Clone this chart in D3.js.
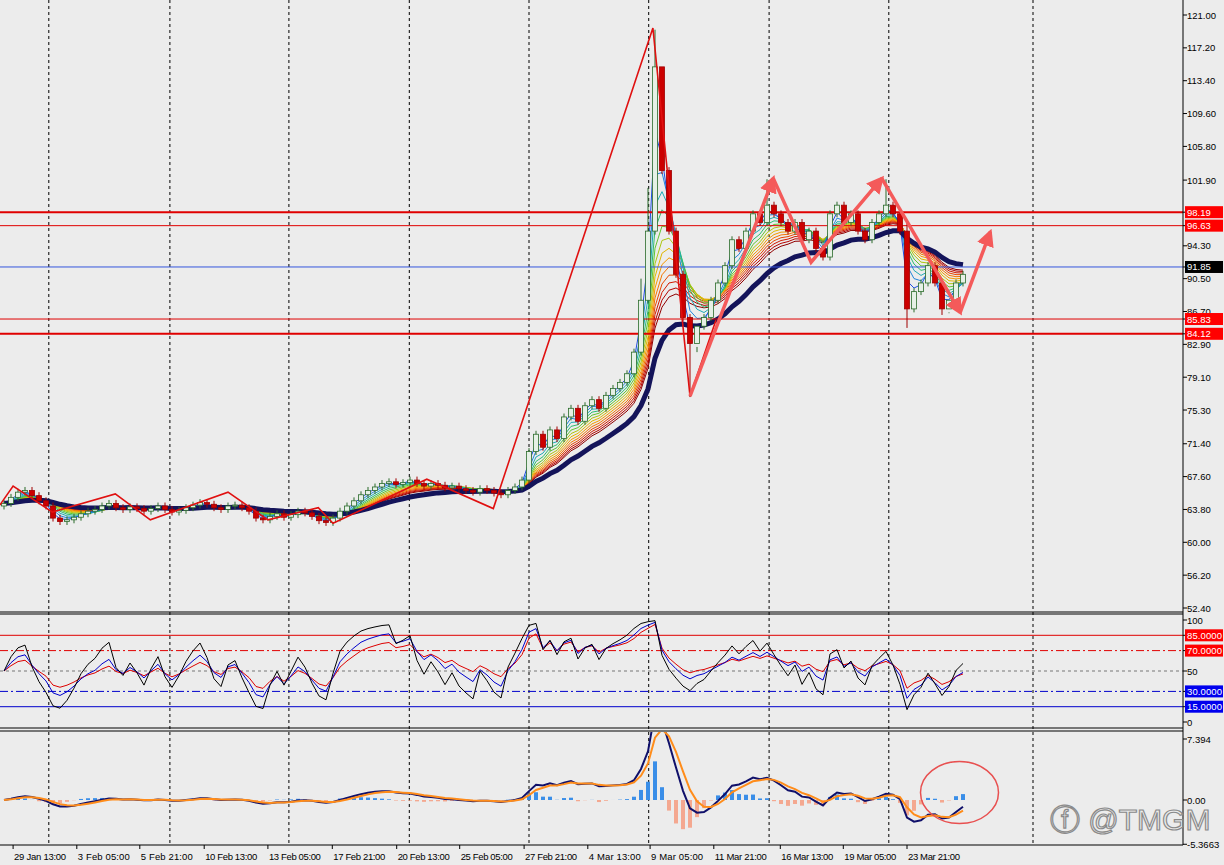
<!DOCTYPE html>
<html><head><meta charset="utf-8">
<script src="https://cdn.jsdelivr.net/npm/d3@7"></script>
<style>body{margin:0;background:#ececec}svg{display:block;font-family:"Liberation Sans",sans-serif}</style>
</head><body><div id="chart"></div>
<script>
// closing prices per bar
const closes = [64.5,65.2,65.8,66.0,65.4,64.8,64.2,
  62.8,62.4,62.6,62.9,63.3,63.6,
  63.8,64.2,64.5,64.0,63.8,64.1,63.9,63.6,63.9,64.2,63.8,63.5,63.7,64.0,64.3,64.6,64.4,64.0,63.8,64.2,64.3,64.0,63.6,
  62.8,62.6,63.0,63.3,62.9,63.2,63.6,63.4,63.0,62.5,62.3,62.8,63.6,
  64.2,64.8,65.5,66.0,66.4,66.8,67.0,66.7,66.9,67.2,66.8,66.5,66.8,66.6,66.3,66.5,66.2,66.0,65.8,66.2,66.0,65.7,
  65.5,66.0,66.4,67.2,
  70.5,72.5,71.0,73.0,72.0,74.5,75.5,
  74.0,75.8,76.5,75.5,77.0,77.8,78.5,79.5,82.0,
  88.0,96.0,115.0,103,96,91,86,83,85,86,88,90,92,95,94,96,98,97,99,98,97,96,97,95,96,94,93,98,99,97,98,96,95,97,98,99,98,96,
  87,89,90,92,90,87,88,90,91];
const highOverride = {91: 90.5, 92: 101, 93: 119.3, 94: 110, 99: 82, 109: 102, 126: 102, 129: 97, 135: 86.5};
const lowOverride = {98: 76.8, 129: 84.8, 134: 86.3};

const priceTicks = [121.00,117.20,113.40,109.60,105.80,101.90,94.30,90.50,86.70,82.90,79.10,75.30,71.40,67.60,63.80,60.00,56.20,52.40];
const levels = [{v:98.19,w:2,c:'#e00000',box:'#ff0000'},{v:96.63,w:1,c:'#e00000',box:'#ff0000'},
  {v:91.85,w:1,c:'#3355dd',box:'#000000'},{v:85.83,w:1,c:'#e00000',box:'#ff0000'},{v:84.12,w:2,c:'#e00000',box:'#ff0000'}];

const timeLabels = ['29 Jan 13:00','3 Feb 05:00','5 Feb 21:00','10 Feb 13:00','13 Feb 05:00','17 Feb 21:00','20 Feb 13:00',
  '25 Feb 05:00','27 Feb 21:00','4 Mar 13:00','9 Mar 05:00','11 Mar 21:00','16 Mar 13:00','19 Mar 05:00','23 Mar 21:00'];
const timeLabelBars = [1.3,10.4,19.4,28.6,37.7,46.9,56.1,65.1,74.3,83.4,92.3,101.4,110.9,119.9,129];
const gridBars = [6.4,23.7,40.7,57.9,75,92.1,109.3,126.4,147];

// zigzag turning points [bar, price]
const zigzag = [[-0.6,64.3],[1.3,66.5],[6.9,63.5],[15.9,65.6],[20.9,62.6],[32,65.8],[37.7,62.6],[44.9,64.0],[47,62.2],
  [60.4,67.3],[69.9,63.9],[92.7,119.5],[98,76.9],[101.7,85.7]];
// hand-drawn arrows [bar, price]
const arrows = [[[98,76.9],[109.9,102.1]],[[109.9,102.1],[115.3,92.4],[125.4,102.1]],[[125.4,102.1],[136.6,86.6]],[[136.6,86.6],[140.9,95.9]]];
const emaPeriods = [2,3,4,5,6,7,8,9,10,11,12,13,14];
const slowPeriod = 20;
const rsiPeriods = [{p:4,c:'#000'},{p:7,c:'#0000cc'},{p:11,c:'#dd0000'}];

const W = 1224, H = 865, right = 1183;
const svg = d3.select('#chart').append('svg').attr('width', W).attr('height', H);
svg.append('rect').attr('width', W).attr('height', H).attr('fill', '#ececec');
const defs = svg.append('defs');
defs.append('clipPath').attr('id', 'mclip').append('rect').attr('x', 0).attr('y', 732).attr('width', right).attr('height', 112);

const x = d3.scaleLinear().domain([0, 1]).range([4, 11]);
const y = d3.scaleLinear().domain([52.4, 121]).range([608, 15]);
const yO = d3.scaleLinear().domain([0, 100]).range([722, 620]);
const yM = d3.scaleLinear().domain([0, 7.394]).range([800, 739]);

const bars = closes.map((c, i) => {
  const o = i ? closes[i - 1] : c - 0.3;
  return {i, o, c, h: highOverride[i] ?? Math.max(o, c) + 0.4, l: lowOverride[i] ?? Math.min(o, c) - 0.4};
});

function ema(vals, p) {
  const k = 2 / (p + 1); let e = vals[0];
  return vals.map(v => (e = v * k + e * (1 - k)));
}
function rsi(vals, p) {
  let ag = 0.3, al = 0.3;
  return vals.map((v, i) => {
    if (!i) return 50;
    const d = v - vals[i - 1];
    ag = (ag * (p - 1) + Math.max(d, 0)) / p;
    al = (al * (p - 1) + Math.max(-d, 0)) / p;
    return al === 0 ? 100 : 100 - 100 / (1 + ag / al);
  });
}

// grid
const grid = svg.append('g');
gridBars.forEach(b => grid.append('line').attr('x1', x(b)).attr('x2', x(b)).attr('y1', 0).attr('y2', 845)
  .attr('stroke', '#000').attr('stroke-dasharray', '3,3').attr('stroke-width', 1));

const main = svg.append('g');
const line = d3.line().x((d, i) => x(i)).y(d => y(d));
const rcol = p => d3.interpolateRgbBasis(['#1f4fe0', '#20b0e0', '#20c040', '#c8d000', '#ffa000', '#f06000', '#d00000', '#900000'])((p - 2) / 12);
emaPeriods.slice().reverse().forEach(p => main.append('path').datum(ema(closes, p)).attr('d', line)
  .attr('fill', 'none').attr('stroke', rcol(p)).attr('stroke-width', 1));
main.append('path').datum(ema(closes, slowPeriod)).attr('d', line).attr('fill', 'none').attr('stroke', '#14145a').attr('stroke-width', 5);

levels.forEach(l => main.append('line').attr('x1', 0).attr('x2', right).attr('y1', y(l.v)).attr('y2', y(l.v))
  .attr('stroke', l.c).attr('stroke-width', l.w));

const cg = main.selectAll('g.bar').data(bars).join('g');
cg.append('line').attr('x1', d => x(d.i)).attr('x2', d => x(d.i)).attr('y1', d => y(d.h)).attr('y2', d => y(d.l))
  .attr('stroke', d => d.c >= d.o ? '#2b6b2b' : '#a00000');
cg.append('rect').attr('x', d => x(d.i) - 2.5).attr('width', 5)
  .attr('y', d => y(Math.max(d.o, d.c))).attr('height', d => Math.max(1, Math.abs(y(d.o) - y(d.c))))
  .attr('fill', d => d.c >= d.o ? '#e6f0e6' : '#cc0000').attr('stroke', d => d.c >= d.o ? '#2b6b2b' : '#a00000').attr('stroke-width', 0.8);

const pl = d3.line().x(d => x(d[0])).y(d => y(d[1]));
main.append('path').datum(zigzag).attr('d', pl).attr('fill', 'none').attr('stroke', '#e01010').attr('stroke-width', 1.6);

defs.append('marker').attr('id', 'ah').attr('viewBox', '0 0 10 10').attr('refX', 8).attr('refY', 5)
  .attr('markerWidth', 5).attr('markerHeight', 5).attr('orient', 'auto')
  .append('path').attr('d', 'M0,0L10,5L0,10z').attr('fill', '#f45a5a');
arrows.forEach(a => main.append('path').datum(a).attr('d', pl).attr('fill', 'none').attr('stroke', '#f45a5a')
  .attr('stroke-width', 3.5).attr('marker-end', 'url(#ah)'));

// oscillator
const osc = svg.append('g');
[{v:85,c:'#e00000',d:null},{v:70,c:'#e00000',d:'8,3,2,3'},{v:50,c:'#777',d:'3,3'},{v:30,c:'#0000cc',d:'8,3,2,3'},{v:15,c:'#0000cc',d:null}]
  .forEach(l => osc.append('line').attr('x1', 0).attr('x2', right).attr('y1', yO(l.v)).attr('y2', yO(l.v))
    .attr('stroke', l.c).attr('stroke-dasharray', l.d));
const ol = d3.line().x((d, i) => x(i)).y(d => yO(d));
rsiPeriods.slice().reverse().forEach(r => osc.append('path').datum(rsi(closes, r.p)).attr('d', ol)
  .attr('fill', 'none').attr('stroke', r.c).attr('stroke-width', 1));

// macd
const mg = svg.append('g').attr('clip-path', 'url(#mclip)');
const fast = ema(closes, 4), slow = ema(closes, 10);
const macd = fast.map((v, i) => v - slow[i]);
const sig = ema(macd, 3);
const hist = macd.map((v, i) => (v - sig[i]) * 1.5);
mg.selectAll('rect').data(hist).join('rect').attr('x', (d, i) => x(i) - 2).attr('width', 4)
  .attr('y', d => yM(Math.max(0, d))).attr('height', d => Math.abs(yM(d) - yM(0)))
  .attr('fill', d => d >= 0 ? '#3a8ee8' : '#f4a890');
const ml = d3.line().x((d, i) => x(i)).y(d => yM(d));
mg.append('path').datum(macd).attr('d', ml).attr('fill', 'none').attr('stroke', '#10106a').attr('stroke-width', 2);
mg.append('path').datum(sig).attr('d', ml).attr('fill', 'none').attr('stroke', '#ff8c1a').attr('stroke-width', 2);
mg.append('ellipse').attr('cx', x(136.5)).attr('cy', yM(0.9)).attr('rx', 39).attr('ry', 31)
  .attr('fill', 'none').attr('stroke', '#e85050').attr('stroke-width', 1.5);

// panel frames
[[612, 614], [728, 731]].forEach(([a, b]) => [a, b].forEach(v => svg.append('line').attr('x1', 0).attr('x2', right)
  .attr('y1', v).attr('y2', v).attr('stroke', '#000')));
svg.append('line').attr('x1', right).attr('x2', right).attr('y1', 0).attr('y2', 845).attr('stroke', '#000');
svg.append('line').attr('x1', 0).attr('x2', right).attr('y1', 845).attr('y2', 845).attr('stroke', '#000');

// watermark
svg.append('text').attr('x', 1050).attr('y', 830).attr('font-size', 30).attr('fill', 'none')
  .attr('stroke', '#8a8a8a').attr('stroke-width', 1.2).text('ⓕ @TMGM');

// right axes
const ax = svg.append('g').attr('font-size', 9.5);
function tick(yy, t, box) {
  ax.append('line').attr('x1', right).attr('x2', right + 4).attr('y1', yy).attr('y2', yy).attr('stroke', '#000');
  if (box) ax.append('rect').attr('x', right + 2).attr('y', yy - 6).attr('width', 38).attr('height', 12).attr('fill', box);
  ax.append('text').attr('x', right + 4).attr('y', yy + 3.5).attr('fill', box ? '#fff' : '#000')
    .attr('textLength', box && t.length > 5 ? 35 : null).text(t);
}
priceTicks.forEach(v => tick(y(v), v.toFixed(2)));
levels.forEach(l => tick(y(l.v), l.v.toFixed(2), l.box));
tick(yO(100), '100'); tick(yO(50), '50'); tick(yO(0), '0');
tick(yO(85), '85.0000', '#ff0000'); tick(yO(70), '70.0000', '#ff0000');
tick(yO(30), '30.0000', '#0000ee'); tick(yO(15), '15.0000', '#0000ee');
tick(yM(7.394), '7.394'); tick(yM(0), '0.00'); tick(yM(-5.3663), '-5.3663');

// time axis
timeLabels.forEach((t, i) => {
  const xx = x(timeLabelBars[i]);
  ax.append('line').attr('x1', xx).attr('x2', xx).attr('y1', 845).attr('y2', 849).attr('stroke', '#000');
  ax.append('text').attr('x', xx + 1).attr('y', 860).attr('textLength', 52).text(t);
});
</script></body></html>
